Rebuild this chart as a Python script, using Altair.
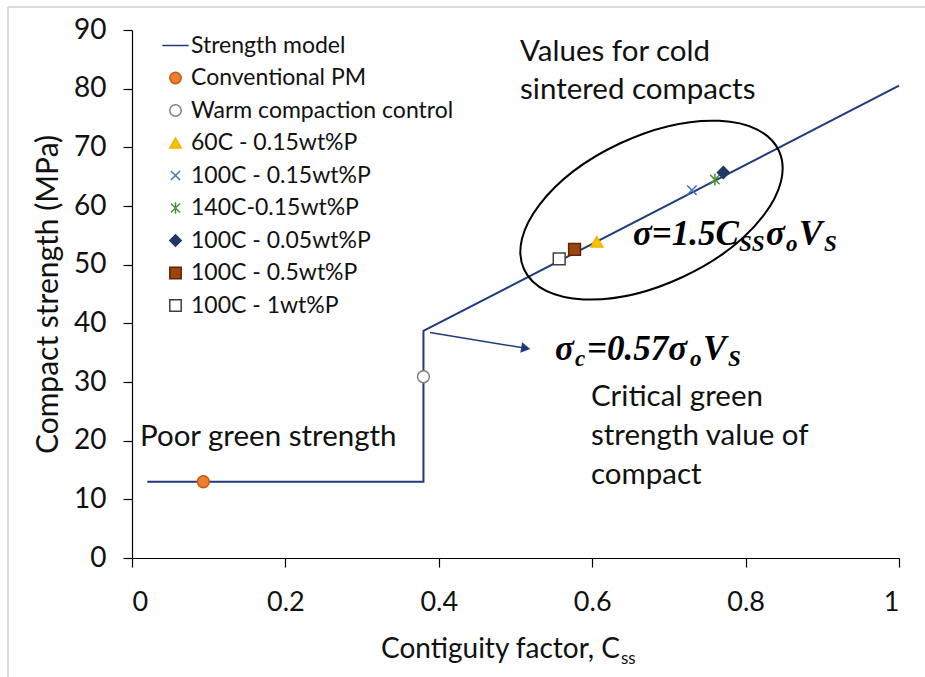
import altair as alt
import pandas as pd

# ---------------- data ----------------
model_x = [0.02, 0.38, 0.38, 1.0]
model_y = [13.0, 13.0, 38.7, 80.5]

series = ["Strength model", "Conventional PM", "Warm compaction control",
          "60C - 0.15wt%P", "100C - 0.15wt%P", "140C-0.15wt%P",
          "100C - 0.05wt%P", "100C - 0.5wt%P", "100C - 1wt%P"]
point_series = series[1:]
point_x = [0.093, 0.380, 0.606, 0.730, 0.760, 0.771, 0.577, 0.557]
point_y = [13.0, 30.9, 53.9, 62.7, 64.5, 65.7, 52.6, 51.0]

x_ticks = [0, 0.2, 0.4, 0.6, 0.8, 1]
y_ticks = [0, 10, 20, 30, 40, 50, 60, 70, 80, 90]

# annotation texts (plain)
note_text = ["Values for cold", "sintered compacts", "Critical green",
             "strength value of", "compact", "Poor green strength"]
note_x = [0.5059, 0.5059, 0.5984, 0.5984, 0.5984, 0.0104]
note_y = [84.7, 78.3, 25.9, 19.3, 12.6, 19.1]

# formula pieces
f_text = ["σ=1.5C", "SS", "σ", "o", "V", "S",
          "σ", "c", "=0.57σ", "o", "V", "S"]
f_x = [0.6532, 0.7914, 0.8266, 0.8527, 0.8696, 0.9022,
       0.5515, 0.5776, 0.5932, 0.7275, 0.7445, 0.7771]
f_y = [53.35, 52.33, 53.35, 52.33, 53.35, 52.33,
       33.75, 32.73, 33.75, 32.73, 33.75, 32.73]
f_big = [True, False, True, False, True, False,
         True, False, True, False, True, False]

# x-axis title pieces
xt_text = ["Contiguity factor, C", "ss"]
xt_x = [0.6362, 0.6375]
xt_y = [-17.0, -18.1]

# arrow and ellipse annotation positions
arrow_start = (0.3885, 38.45)
arrow_end = (0.5133, 35.75)
ellipse_center = (0.6773, 59.3)

# ---------------- styles ----------------
LINE = "M-2.3,0L2.3,0"
XMARK = "M-0.8,-0.8L0.8,0.8M-0.8,0.8L0.8,-0.8"
AST = "M-0.8,-0.8L0.8,0.8M-0.8,0.8L0.8,-0.8M0,-1L0,1"
shape_range = [LINE, "circle", "circle", "triangle-up", XMARK, AST,
               "diamond", "square", "square"]
fill_range = ["transparent", "#ED7D31", "white", "#FFC000", "transparent",
              "transparent", "#1F3864", "#9C4510", "white"]
stroke_range = ["#1F3B7C", "#C55A11", "#7F7F7F", "#F0B400", "#4472C4",
                "#4E8F32", "#1F3864", "#5E2606", "#404040"]
NAVY = "#1F3B7C"

W, H = 767, 528
xs = alt.Scale(domain=[0, 1], nice=False, zero=False)
ys = alt.Scale(domain=[0, 90], nice=False, zero=False)

model_df = pd.DataFrame({"x": model_x, "y": model_y, "o": list(range(len(model_x)))})
pts_df = pd.DataFrame({"x": point_x, "y": point_y, "series": point_series})
note_df = pd.DataFrame({"t": note_text, "x": note_x, "y": note_y})
f_df = pd.DataFrame({"t": f_text, "x": f_x, "y": f_y, "big": f_big})
xt_df = pd.DataFrame({"t": xt_text, "x": xt_x, "y": xt_y})
arrow_df = pd.DataFrame({"x": [arrow_start[0]], "y": [arrow_start[1]],
                         "x2": [arrow_end[0]], "y2": [arrow_end[1]]})
head_df = pd.DataFrame({"x": [arrow_end[0]], "y": [arrow_end[1]]})
ell_df = pd.DataFrame({"x": [ellipse_center[0]], "y": [ellipse_center[1]]})

x_enc = alt.X("x:Q", scale=xs, axis=alt.Axis(
    values=x_ticks, title=None, labelFontSize=27,
    labelExpr="datum.value == 0 || datum.value == 1 ? format(datum.value, 'd') : format(datum.value, '.1f')"))
y_enc = alt.Y("y:Q", scale=ys, axis=alt.Axis(values=y_ticks, title="Compact strength (MPa)",
                                             labelFontSize=28))

line = alt.Chart(model_df).mark_line(color=NAVY, strokeWidth=2).encode(
    x=x_enc, y=y_enc, order="o:Q")

leg = alt.Legend(title=None, orient="none", legendX=32, legendY=4,
                 labelFont="Lato", labelFontSize=23, labelColor="#111",
                 labelLimit=0, symbolSize=130, symbolStrokeWidth=1.5,
                 labelOffset=4, rowPadding=8.5, padding=0, symbolOpacity=1)

points = alt.Chart(pts_df).mark_point(size=140, opacity=1, strokeWidth=1.5).encode(
    x="x:Q", y="y:Q",
    shape=alt.Shape("series:N", scale=alt.Scale(domain=series, range=shape_range), legend=leg),
    fill=alt.Fill("series:N", scale=alt.Scale(domain=series, range=fill_range), legend=leg),
    stroke=alt.Stroke("series:N", scale=alt.Scale(domain=series, range=stroke_range), legend=leg),
)

ellipse = alt.Chart(ell_df).mark_point(
    shape="M-1,0A1,0.525,0,1,1,1,0A1,0.525,0,1,1,-1,0Z",
    size=79000, angle=335, stroke="black", strokeWidth=2, fill="transparent",
    filled=False, opacity=1).encode(x="x:Q", y="y:Q")

arrow = alt.Chart(arrow_df).mark_rule(color=NAVY, strokeWidth=1.5).encode(
    x="x:Q", y="y:Q", x2="x2:Q", y2="y2:Q")
head = alt.Chart(head_df).mark_point(shape="triangle-right", size=110, angle=9.5,
                                     filled=True, color=NAVY, opacity=1).encode(x="x:Q", y="y:Q")

notes = alt.Chart(note_df).mark_text(font="Lato", fontSize=29.5, align="left",
                                     baseline="alphabetic", color="#111").encode(
    x="x:Q", y="y:Q", text="t:N")

formula = alt.Chart(f_df).mark_text(font="Liberation Serif", fontStyle="italic",
                                    fontWeight="bold", align="left",
                                    baseline="alphabetic", color="black").encode(
    x="x:Q", y="y:Q", text="t:N",
    size=alt.Size("big:N", scale=alt.Scale(domain=[True, False], range=[35, 23]), legend=None))

xt_big = alt.Chart(xt_df.iloc[[0]]).mark_text(font="Lato", fontSize=28, align="right",
                                            baseline="alphabetic", color="#111").encode(
    x="x:Q", y="y:Q", text="t:N")
xt_small = alt.Chart(xt_df.iloc[[1]]).mark_text(font="Lato", fontSize=17, align="left",
                                              baseline="alphabetic", color="#111").encode(
    x="x:Q", y="y:Q", text="t:N")

frame_top = alt.Chart(ell_df).mark_rule(color="#CFCFCF", strokeWidth=1.5).encode(
    x=alt.value(-124), x2=alt.value(800), y=alt.value(-23))
frame_left = alt.Chart(ell_df).mark_rule(color="#CFCFCF", strokeWidth=1.5).encode(
    x=alt.value(-124), y=alt.value(-23), y2=alt.value(660))

chart = alt.layer(frame_top, frame_left, line, ellipse, arrow, head, points,
                  notes, formula, xt_big, xt_small).properties(
    width=W, height=H,
    autosize=alt.AutoSizeParams(type="none"),
    padding={"left": 132, "top": 30, "right": 26, "bottom": 119},
    background="white",
).configure_view(stroke=None).configure_axis(
    grid=False, domainColor="#000", tickColor="#000", labelColor="#111",
    labelFont="Lato", titleFont="Lato", titleFontSize=30,
    titleFontWeight="normal", titleColor="#111", tickSize=9, domainWidth=1.2,
    tickWidth=1.2
).configure_axisY(labelPadding=17, titlePadding=10).configure_axisX(labelPadding=22)

chart.save("out.html", embed_options={"renderer": "svg", "actions": False})
